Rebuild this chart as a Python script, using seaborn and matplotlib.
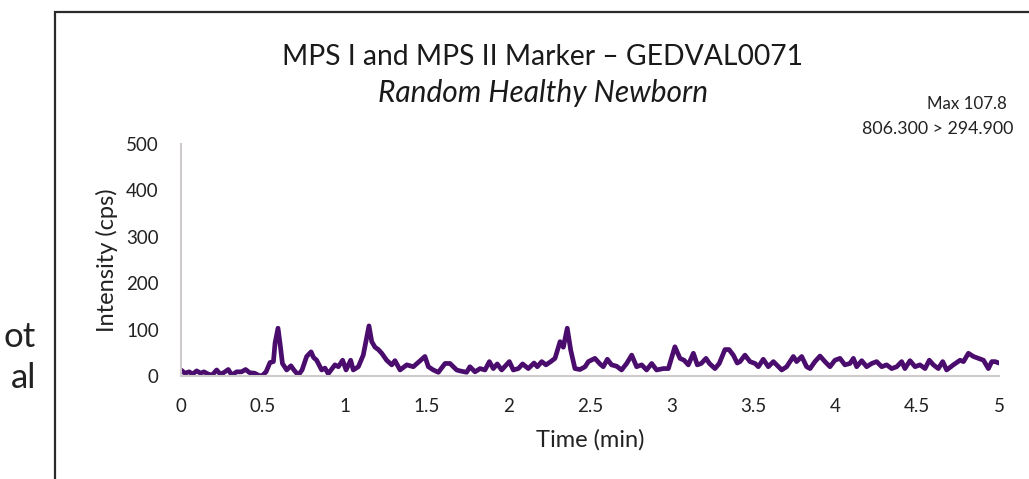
import matplotlib
matplotlib.use("Agg")
import matplotlib.pyplot as plt
from matplotlib.patches import Rectangle
import seaborn as sns
import pandas as pd

# ---- data ----
time_min = [
    0.000, 0.024, 0.050, 0.070, 0.096, 0.120, 0.140, 0.167, 0.190, 0.218,
    0.240, 0.260, 0.289, 0.310, 0.340, 0.370, 0.395, 0.420, 0.450, 0.483,
    0.500, 0.520, 0.544, 0.565, 0.575, 0.593, 0.605, 0.620, 0.646, 0.672,
    0.690, 0.717, 0.740, 0.768, 0.795, 0.810, 0.829, 0.860, 0.880, 0.900,
    0.941, 0.962, 0.988, 1.009, 1.037, 1.053, 1.084, 1.114, 1.149, 1.166,
    1.186, 1.206, 1.227, 1.257, 1.288, 1.308, 1.339, 1.380, 1.420, 1.491,
    1.512, 1.542, 1.573, 1.614, 1.644, 1.685, 1.705, 1.746, 1.766, 1.797,
    1.828, 1.858, 1.885, 1.909, 1.933, 1.960, 2.007, 2.031, 2.062, 2.088,
    2.123, 2.158, 2.178, 2.205, 2.231, 2.260, 2.286, 2.317, 2.337, 2.361,
    2.382, 2.408, 2.439, 2.470, 2.490, 2.530, 2.561, 2.581, 2.606, 2.632,
    2.663, 2.693, 2.724, 2.755, 2.785, 2.816, 2.846, 2.877, 2.907, 2.948,
    2.979, 3.019, 3.050, 3.075, 3.101, 3.132, 3.156, 3.180, 3.209, 3.230,
    3.264, 3.290, 3.325, 3.350, 3.376, 3.400, 3.417, 3.447, 3.478, 3.509,
    3.529, 3.559, 3.590, 3.621, 3.641, 3.672, 3.702, 3.743, 3.763, 3.794,
    3.824, 3.845, 3.875, 3.906, 3.936, 3.967, 3.997, 4.028, 4.058, 4.089,
    4.110, 4.130, 4.161, 4.191, 4.222, 4.252, 4.283, 4.313, 4.344, 4.375,
    4.405, 4.425, 4.456, 4.487, 4.517, 4.548, 4.574, 4.599, 4.629, 4.656,
    4.680, 4.721, 4.762, 4.783, 4.813, 4.844, 4.874, 4.905, 4.935, 4.956,
    4.976, 5.000,
]
intensity_cps = [
    13, 6, 9, 4, 11, 6, 9, 4, 2, 13,
    4, 7, 14, 2, 9, 9, 14, 7, 6, 0,
    2, 9, 29, 31, 71, 103, 71, 27, 13, 22,
    13, 2, 13, 42, 52, 40, 34, 13, 17, 5,
    24, 20, 34, 13, 34, 13, 20, 45, 108, 74,
    62, 57, 49, 34, 24, 33, 13, 24, 20, 42,
    20, 13, 8, 27, 27, 13, 11, 8, 20, 9,
    16, 13, 31, 16, 26, 13, 31, 13, 16, 26,
    16, 28, 20, 31, 24, 31, 38, 74, 62, 103,
    56, 16, 14, 20, 31, 38, 26, 20, 36, 24,
    21, 13, 27, 45, 20, 24, 13, 27, 13, 16,
    16, 63, 38, 34, 24, 49, 24, 27, 38, 27,
    16, 27, 57, 57, 45, 28, 31, 45, 31, 27,
    20, 36, 20, 31, 24, 13, 20, 42, 31, 42,
    20, 16, 31, 43, 31, 20, 34, 38, 24, 27,
    38, 20, 33, 20, 27, 31, 20, 24, 16, 20,
    31, 16, 33, 20, 24, 16, 34, 24, 16, 31,
    13, 24, 34, 31, 49, 42, 38, 34, 16, 31,
    31, 28,
]
x_ticks = [0, 0.5, 1, 1.5, 2, 2.5, 3, 3.5, 4, 4.5, 5]
x_tick_labels = ["0", "0.5", "1", "1.5", "2", "2.5", "3", "3.5", "4", "4.5", "5"]
y_ticks = [0, 100, 200, 300, 400, 500]

title = "MPS I and MPS II Marker \u2013 GEDVAL0071"
subtitle = "Random Healthy Newborn"
max_note = "Max 107.8"
transition_note = "806.300 > 294.900"

df = pd.DataFrame({"Time (min)": time_min, "Intensity (cps)": intensity_cps})

sns.set_style("white")
plt.rcParams["font.family"] = ["Lato", "DejaVu Sans"]

W, H = 1029, 479
fig = plt.figure(figsize=(W / 100, H / 100), dpi=100)
ax = fig.add_axes([181 / W, 1 - 376 / H, (999 - 181) / W, (376 - 144) / H])

sns.lineplot(data=df, x="Time (min)", y="Intensity (cps)", ax=ax,
             color="#4b0d6d", linewidth=3.4, estimator=None, sort=False)

ax.set_xlim(0, 5)
ax.set_ylim(0, 500)
ax.set_xticks(x_ticks)
ax.set_xticklabels(x_tick_labels)
ax.set_yticks(y_ticks)
ax.tick_params(axis="both", length=0, labelsize=13.5, colors="#222222")
ax.tick_params(axis="x", pad=16)
ax.tick_params(axis="y", pad=16)
for s in ["top", "right"]:
    ax.spines[s].set_visible(False)
for s in ["left", "bottom"]:
    ax.spines[s].set_color("#cfcbcb")
    ax.spines[s].set_linewidth(1.5)
ax.set_xlabel("Time (min)", fontsize=17, color="#222222", labelpad=10)
ax.set_ylabel("Intensity (cps)", fontsize=17, color="#222222", labelpad=6)

# chart frame (partially outside the figure)
fig.patches.append(Rectangle((55 / W, -0.2), 1.2, 1 - 12 / H + 0.2,
                             transform=fig.transFigure, fill=False,
                             edgecolor="#2a2a2a", linewidth=1.6))

fig.text(543 / W, 1 - 57 / H, title, ha="center", va="center",
         fontsize=20.3, color="#1a1a1a")
fig.text(543 / W, 1 - 93 / H, subtitle, ha="center", va="center",
         fontsize=21.5, style="italic", color="#1a1a1a")
fig.text(1007 / W, 1 - 104 / H, max_note, ha="right", va="center",
         fontsize=12.2, color="#222222")
fig.text(1013 / W, 1 - 129 / H, transition_note, ha="right", va="center",
         fontsize=12.8, color="#222222")

# slide text visible at the left edge
fig.text(36 / W, 1 - 337 / H, "ot", ha="right", va="center",
         fontsize=25, color="#222222")
fig.text(36 / W, 1 - 378 / H, "al", ha="right", va="center",
         fontsize=25, color="#222222")

fig.savefig("out.png", dpi=100)
